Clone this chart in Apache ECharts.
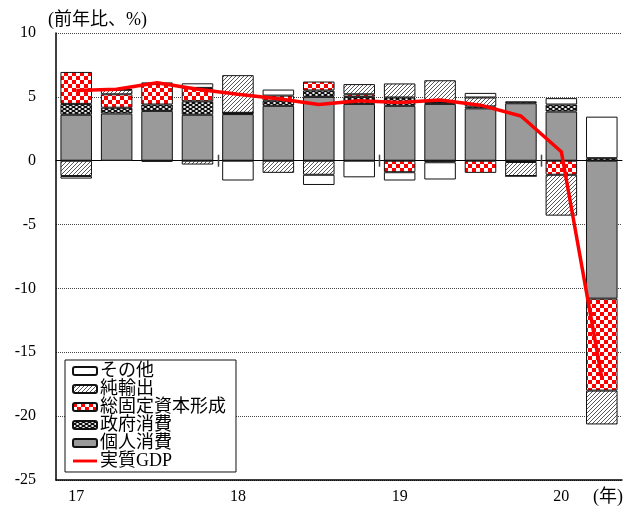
<!DOCTYPE html>
<html>
<head>
<meta charset="utf-8">
<script src="https://cdn.jsdelivr.net/npm/echarts@6/dist/echarts.min.js"></script>
<style>
  html, body { margin: 0; padding: 0; background: #fff; }
  #chart { width: 624px; height: 506px; }
</style>
</head>
<body>
<div id="chart"></div>
<script>
// Quarterly contributions to real GDP growth (y/y, %), 2017Q1 - 2020Q2
const quarters = ['17Q1','17Q2','17Q3','17Q4','18Q1','18Q2','18Q3','18Q4','19Q1','19Q2','19Q3','19Q4','20Q1','20Q2'];
const tickLabels = ['17','','','','18','','','','19','','','','20',''];
const yearBreaks = [4, 8, 12];

const personalConsumption = [3.6, 3.7, 3.9, 3.6, 3.65, 4.3, 5.0, 4.45, 4.3, 4.45, 4.1, 4.5, 3.85, -10.8];
const governmentConsumption = [0.85, 0.45, 0.5, 1.05, 0.1, 0.4, 0.5, 0.55, 0.65, 0.15, 0.15, 0.15, 0.55, 0.2];
const fixedCapital = [2.5, 1.05, 1.6, 1.05, 0, 0.4, 0.7, 0.2, -0.9, -0.12, -0.95, -0.1, -1.1, -7.2];
const netExports = [-1.2, 0.35, -0.08, -0.3, 2.95, -0.95, -1.1, 0.8, 1.1, 1.7, 0.7, -1.1, -3.2, -2.65];
const others = [-0.2, 0.05, 0.13, 0.36, -1.55, 0.47, -0.8, -1.3, -0.65, -1.35, 0.36, 0, 0.5, 3.25];
const realGDP = [5.5, 5.6, 6.1, 5.6, 5.2, 4.85, 4.4, 4.7, 4.55, 4.75, 4.35, 3.5, 0.7, -17.0];

const FONT = "'Liberation Serif', 'Noto Sans CJK JP', serif";

// Tile helpers for the fill patterns
function tile(w, h, draw) {
  const c = document.createElement('canvas');
  c.width = w; c.height = h;
  const ctx = c.getContext('2d');
  draw(ctx, w, h);
  return c;
}
const checker = tile(8, 8, (ctx) => {
  ctx.fillStyle = '#fff'; ctx.fillRect(0, 0, 8, 8);
  ctx.fillStyle = '#ff0000';
  ctx.fillRect(0, 0, 4, 4); ctx.fillRect(4, 4, 4, 4);
});
const hatch = tile(4, 4, (ctx) => {
  ctx.fillStyle = '#fff'; ctx.fillRect(0, 0, 4, 4);
  ctx.strokeStyle = '#444'; ctx.lineWidth = 0.9;
  ctx.beginPath();
  ctx.moveTo(0, 4); ctx.lineTo(4, 0);
  ctx.moveTo(-1, 1); ctx.lineTo(1, -1);
  ctx.moveTo(3, 5); ctx.lineTo(5, 3);
  ctx.stroke();
});
const dots = tile(6, 4, (ctx) => {
  ctx.fillStyle = '#111'; ctx.fillRect(0, 0, 6, 4);
  ctx.fillStyle = '#fff';
  ctx.beginPath(); ctx.ellipse(1.5, 1, 1.4, 0.9, 0, 0, Math.PI * 2); ctx.fill();
  ctx.beginPath(); ctx.ellipse(4.5, 3, 1.4, 0.9, 0, 0, Math.PI * 2); ctx.fill();
});

const border = { borderColor: '#111', borderWidth: 1 };

function barSeries(name, data, color) {
  return {
    name, type: 'bar', stack: 'total', stackStrategy: 'samesign',
    data, barCategoryGap: '22%',
    itemStyle: Object.assign({ color }, border),
    emphasis: { disabled: true }
  };
}

const chart = echarts.init(document.getElementById('chart'), null, { renderer: 'canvas' });
chart.setOption({
  animation: false,
  backgroundColor: '#fff',
  title: [
    { text: '(前年比、%)', left: 48, top: 11, padding: 0,
      textStyle: { fontSize: 18, fontWeight: 'normal', fontFamily: FONT, color: '#000' } },
    { text: '(年)', right: 1, top: 488, padding: 0,
      textStyle: { fontSize: 18, fontWeight: 'normal', fontFamily: FONT, color: '#000' } }
  ],
  grid: { left: 56, right: 2, top: 33, bottom: 26 },
  legend: {
    orient: 'vertical', left: 65, top: 360,
    padding: [2, 10, 2, 7],
    backgroundColor: '#fff', borderColor: '#111', borderWidth: 1,
    itemWidth: 24, itemHeight: 8, itemGap: 0,
    textStyle: { fontSize: 18, fontFamily: FONT, color: '#000', padding: [0, 0, 0, -2] },
    data: [
      { name: 'その他' }, { name: '純輸出' }, { name: '総固定資本形成' },
      { name: '政府消費' }, { name: '個人消費' },
      { name: '実質GDP', icon: 'path://M0,0 L10,0 L10,1.2 L0,1.2 Z' }
    ]
  },
  xAxis: [
    {
      type: 'category', data: quarters, position: 'bottom',
      axisLine: { onZero: false, lineStyle: { color: '#000', width: 1.5 } },
      axisTick: { show: false },
      axisLabel: {
        interval: 0, margin: 9, fontSize: 16, fontFamily: FONT, color: '#000',
        formatter: (v, i) => tickLabels[i]
      },
      splitLine: { show: false }
    },
    {
      type: 'category', data: quarters, position: 'bottom',
      axisLine: { onZero: true, lineStyle: { color: '#000', width: 1 } },
      axisTick: { show: false }, axisLabel: { show: false }
    }
  ],
  yAxis: {
    type: 'value', min: -25, max: 10, interval: 5,
    axisLine: { show: true, lineStyle: { color: '#000', width: 1.5 } },
    axisTick: { show: false },
    axisLabel: { margin: 20, fontSize: 16, fontFamily: FONT, color: '#000' },
    splitLine: { lineStyle: { color: '#444', type: [1, 1], width: 1 } }
  },
  series: [
    barSeries('個人消費', personalConsumption, '#9a9a9a'),
    barSeries('政府消費', governmentConsumption, { image: dots, repeat: 'repeat' }),
    barSeries('総固定資本形成', fixedCapital, { image: checker, repeat: 'repeat' }),
    barSeries('純輸出', netExports, { image: hatch, repeat: 'repeat' }),
    barSeries('その他', others, '#ffffff'),
    {
      name: '実質GDP', type: 'line', data: realGDP,
      symbol: 'none', z: 5,
      lineStyle: { color: '#ff0000', width: 3.5 },
      itemStyle: { color: '#ff0000' }
    },
    {
      // short marks on the zero line between years
      type: 'custom', z: 6, silent: true,
      data: yearBreaks.map(i => [i, 0]),
      encode: { x: 0, y: 1 },
      renderItem: (params, api) => {
        const p = api.coord([api.value(0), 0]);
        const w = api.size([1, 0])[0];
        const x = Math.round(p[0] - w / 2) + 0.5;
        return {
          type: 'line',
          shape: { x1: x, y1: p[1] - 6, x2: x, y2: p[1] + 6 },
          style: { stroke: '#444', lineWidth: 1.5 }
        };
      }
    }
  ]
});
</script>
</body>
</html>
